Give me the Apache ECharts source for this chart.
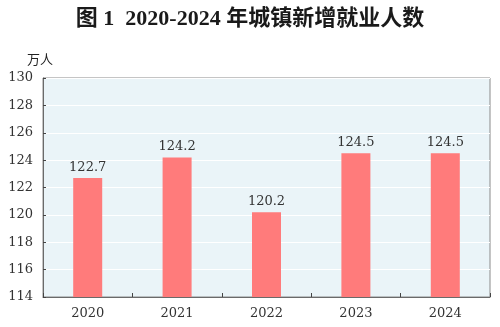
<!DOCTYPE html>
<html>
<head>
<meta charset="utf-8">
<script src="https://cdn.jsdelivr.net/npm/echarts@6/dist/echarts.min.js"></script>
<style>
  html, body { margin: 0; padding: 0; background: #ffffff; }
  #chart { width: 500px; height: 327px; }
</style>
</head>
<body>
<div id="chart"></div>
<script>
// Newly added urban employment, 2020-2024 (10k persons)
const years = ['2020', '2021', '2022', '2023', '2024'];
const newJobs = [122.7, 124.2, 120.2, 124.5, 124.5];
const yTicks = [114, 116, 118, 120, 122, 124, 126, 128, 130];

const serif = '"DejaVu Serif", "Liberation Serif", "Noto Sans CJK SC", serif';

const chart = echarts.init(document.getElementById('chart'), null, { renderer: 'canvas' });
chart.setOption({
  animation: false,
  backgroundColor: '#ffffff',
  title: {
    text: '图 1  2020-2024 年城镇新增就业人数',
    left: 'center',
    top: 3,
    textStyle: {
      fontFamily: '"Liberation Serif", "Noto Sans CJK SC", serif',
      fontSize: 22,
      fontWeight: 'bold',
      color: '#1a1a1a'
    }
  },
  grid: {
    left: 43, right: 10, top: 78, bottom: 30,
    show: true,
    backgroundColor: '#eaf4f8',
    borderColor: '#8a8a8a',
    borderWidth: 1
  },
  xAxis: {
    type: 'category',
    data: years,
    axisLine: { lineStyle: { color: '#6a6a6a', width: 1 } },
    axisTick: { show: true, inside: true, length: 4, lineStyle: { color: '#444' } },
    axisLabel: { fontFamily: serif, fontSize: 13, color: '#333', margin: 10 }
  },
  yAxis: {
    type: 'value',
    name: '万人',
    nameLocation: 'end',
    nameGap: 12,
    nameTextStyle: { fontFamily: '"Noto Sans CJK SC", sans-serif', fontSize: 13, color: '#222', align: 'center', padding: [0, 0, 0, -6] },
    min: yTicks[0],
    max: yTicks[yTicks.length - 1],
    interval: 2,
    axisLine: { show: true, lineStyle: { color: '#6a6a6a', width: 1 } },
    axisTick: { show: true, inside: true, length: 3, lineStyle: { color: '#444' } },
    axisLabel: { fontFamily: serif, fontSize: 13, color: '#333', margin: 10 },
    splitLine: { show: true, lineStyle: { color: '#ffffff', width: 1 } }
  },
  series: [{
    type: 'bar',
    data: newJobs,
    barWidth: 29,
    itemStyle: { color: '#ff7b7b' },
    label: {
      show: true,
      position: 'top',
      distance: 4,
      fontFamily: serif,
      fontSize: 13,
      color: '#333',
      formatter: p => p.value.toFixed(1)
    }
  }]
});
</script>
</body>
</html>
